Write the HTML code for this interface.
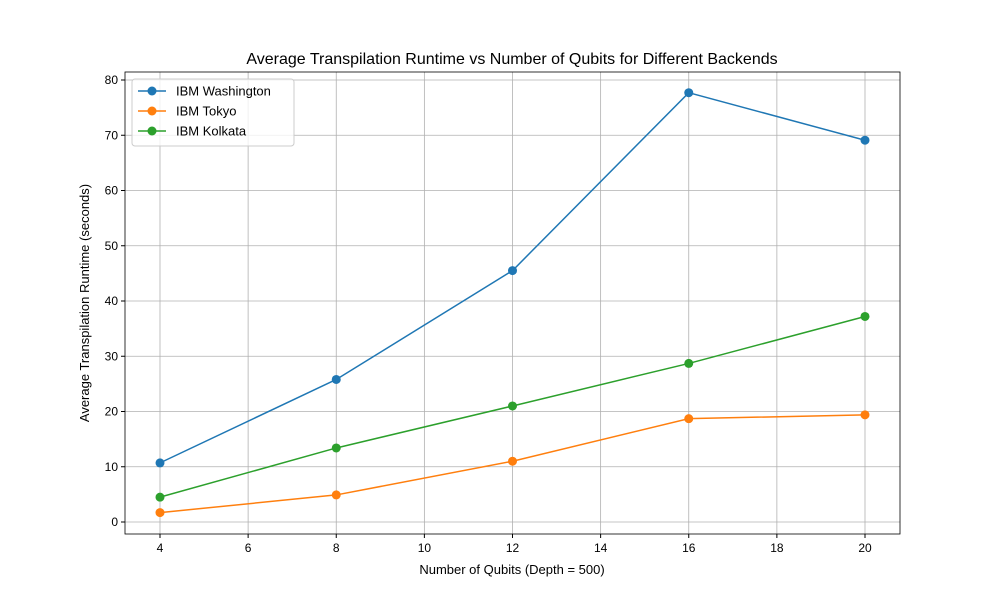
<!DOCTYPE html>
<html><head><meta charset="utf-8"><style>body{margin:0;background:#fff}svg{display:block;font-family:"Liberation Sans","DejaVu Sans",sans-serif}</style></head>
<body>
<svg id="chart" width="1000" height="600"></svg>
<script>
const categories=[4,8,12,16,20];
const washington=[10.7,25.8,45.5,77.7,69.1];
const tokyo=[1.7,4.9,11.0,18.7,19.4];
const kolkata=[4.5,13.4,21.0,28.7,37.2];
const xTicks=[4,6,8,10,12,14,16,18,20];
const yTicks=[0,10,20,30,40,50,60,70,80];
const NS="http://www.w3.org/2000/svg";
const svg=document.getElementById('chart');
const L=125,R=900,T=72,B=534;
const xs=v=>160+(v-4)*(865-160)/16;
const ys=v=>522-v*(522-80)/80;
function mk(t,a,p){const e=document.createElementNS(NS,t);for(const k in a)e.setAttribute(k,a[k]);(p||svg).appendChild(e);return e;}
const grid=mk('g',{});


xTicks.forEach(v=>{mk('line',{x1:xs(v),x2:xs(v),y1:T,y2:B,stroke:'#b0b0b0','stroke-width':0.8},grid);
const l=mk('line',{x1:xs(v),x2:xs(v),y1:B,y2:B+4,stroke:'#000'});
const t=mk('text',{x:xs(v),y:B+18,'text-anchor':'middle','font-size':12});t.textContent=v;

});
yTicks.forEach(v=>{mk('line',{x1:L,x2:R,y1:ys(v),y2:ys(v),stroke:'#b0b0b0','stroke-width':0.8},grid);
mk('line',{x1:L-4,x2:L,y1:ys(v),y2:ys(v),stroke:'#000'});
const t=mk('text',{x:L-7,y:ys(v)+4,'text-anchor':'end','font-size':12});t.textContent=v;

});
const frame=mk('rect',{x:L,y:T,width:R-L,height:B-T,fill:'none',stroke:'#000','stroke-width':0.8});


const series=[[washington,'#1f77b4','IBM Washington'],[tokyo,'#ff7f0e','IBM Tokyo'],[kolkata,'#2ca02c','IBM Kolkata']];
series.forEach(([d,c,n])=>{const g=mk('g',{});


mk('polyline',{points:d.map((v,i)=>xs(categories[i])+','+ys(v)).join(' '),fill:'none',stroke:c,'stroke-width':1.5},g);
d.forEach((v,i)=>{const p=mk('circle',{cx:xs(categories[i]),cy:ys(v),r:4.5,fill:c},g);

});});
const lg=mk('g',{});


mk('rect',{x:132,y:79,width:162,height:67,rx:3,fill:'#fff','fill-opacity':0.8,stroke:'#ccc'},lg);
series.forEach(([d,c,n],i)=>{const y=91+i*20;
mk('line',{x1:138,x2:166,y1:y,y2:y,stroke:c,'stroke-width':1.5},lg);
mk('circle',{cx:152,cy:y,r:4.5,fill:c},lg);
const t=mk('text',{x:176,y:y+4.5,'font-size':13},lg);t.textContent=n;

});
const ti=mk('text',{x:512,y:64,'text-anchor':'middle','font-size':16});ti.textContent='Average Transpilation Runtime vs Number of Qubits for Different Backends';


const xt=mk('text',{x:512,y:574,'text-anchor':'middle','font-size':13});xt.textContent='Number of Qubits (Depth = 500)';


const yt=mk('text',{x:0,y:0,'text-anchor':'middle','font-size':13,transform:'translate(89,303) rotate(-90)'});yt.textContent='Average Transpilation Runtime (seconds)';


</script>
</body></html>
